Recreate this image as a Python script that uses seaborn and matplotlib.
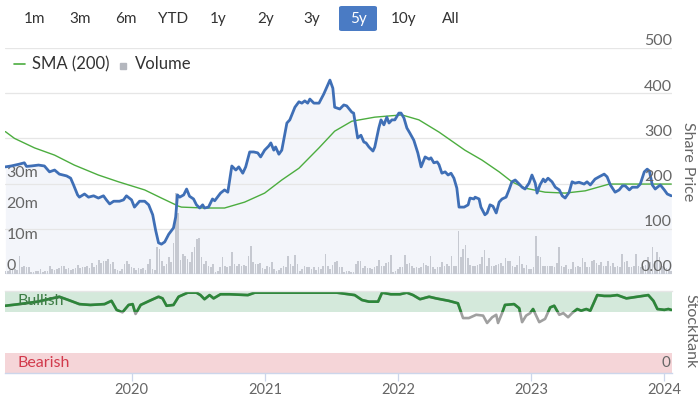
import numpy as np
import pandas as pd
import matplotlib.pyplot as plt
import seaborn as sns
from matplotlib.lines import Line2D
from matplotlib.patches import FancyBboxPatch, Rectangle
import matplotlib.transforms as mtransforms

# ==========================================
# DATA
# ==========================================

range_buttons = ["1m", "3m", "6m", "YTD", "1y", "2y", "3y", "5y", "10y", "All"]
selected_button = "5y"

price_dates = [
    "2019-01-20", "2019-02-05", "2019-02-27", "2019-03-13", "2019-03-19", "2019-04-01", "2019-04-21",
    "2019-05-07", "2019-05-21", "2019-06-04", "2019-06-17", "2019-07-07", "2019-07-18", "2019-07-26",
    "2019-08-06", "2019-08-11", "2019-08-25", "2019-09-05", "2019-09-19", "2019-10-02", "2019-10-16",
    "2019-10-24", "2019-11-02", "2019-11-13", "2019-11-29", "2019-12-10", "2019-12-18", "2020-01-01",
    "2020-01-09", "2020-01-23", "2020-02-06", "2020-02-17", "2020-02-28", "2020-03-07", "2020-03-15",
    "2020-03-23", "2020-04-01", "2020-04-12", "2020-04-25", "2020-05-01", "2020-05-06", "2020-05-12",
    "2020-05-23", "2020-05-31", "2020-06-08", "2020-06-19", "2020-06-27", "2020-07-06", "2020-07-14",
    "2020-07-19", "2020-07-30", "2020-08-10", "2020-08-16", "2020-09-01", "2020-09-12", "2020-09-21",
    "2020-10-02", "2020-10-13", "2020-10-21", "2020-11-01", "2020-11-09", "2020-11-20", "2020-12-01",
    "2020-12-12", "2020-12-20", "2020-12-31", "2021-01-11", "2021-01-17", "2021-01-25", "2021-01-30",
    "2021-02-08", "2021-02-16", "2021-03-02", "2021-03-10", "2021-03-24", "2021-04-04", "2021-04-12",
    "2021-04-20", "2021-04-28", "2021-05-04", "2021-05-15", "2021-05-29", "2021-06-11", "2021-06-28",
    "2021-07-06", "2021-07-11", "2021-07-25", "2021-08-05", "2021-08-13", "2021-08-27", "2021-09-01",
    "2021-09-12", "2021-09-21", "2021-09-29", "2021-10-05", "2021-10-13", "2021-10-24", "2021-10-29",
    "2021-11-09", "2021-11-15", "2021-11-23", "2021-12-01", "2021-12-07", "2021-12-15", "2021-12-23",
    "2022-01-03", "2022-01-09", "2022-01-17", "2022-01-25", "2022-02-02", "2022-02-13", "2022-02-24",
    "2022-03-05", "2022-03-16", "2022-03-27", "2022-04-01", "2022-04-09", "2022-04-18", "2022-04-23",
    "2022-05-01", "2022-05-10", "2022-05-18", "2022-05-26", "2022-06-03", "2022-06-11", "2022-06-17",
    "2022-07-01", "2022-07-12", "2022-07-17", "2022-07-28", "2022-07-31", "2022-08-11", "2022-08-16",
    "2022-08-27", "2022-09-02", "2022-09-10", "2022-09-18", "2022-09-27", "2022-10-05", "2022-10-13",
    "2022-10-24", "2022-11-01", "2022-11-09", "2022-11-18", "2022-11-29", "2022-12-07", "2022-12-15",
    "2022-12-26", "2023-01-03", "2023-01-12", "2023-01-17", "2023-01-25", "2023-02-03", "2023-02-08",
    "2023-02-16", "2023-02-27", "2023-03-08", "2023-03-19", "2023-03-27", "2023-04-04", "2023-04-15",
    "2023-04-23", "2023-05-01", "2023-05-12", "2023-05-26", "2023-06-03", "2023-06-12", "2023-06-25",
    "2023-07-06", "2023-07-20", "2023-07-28", "2023-08-06", "2023-08-19", "2023-08-30", "2023-09-08",
    "2023-09-16", "2023-09-27", "2023-10-05", "2023-10-19", "2023-10-27", "2023-11-07", "2023-11-15",
    "2023-11-21", "2023-11-29", "2023-12-07", "2023-12-13", "2023-12-21", "2024-01-01", "2024-01-09",
    "2024-01-20",
]
price_values = [
    237, 239, 243, 246, 238, 239, 241, 239, 226, 230, 221, 217, 212, 197, 175, 170, 177, 170, 173, 168,
    173, 164, 155, 161, 161, 164, 173, 164, 148, 161, 161, 153, 131, 97, 69, 66, 71, 88, 102, 126,
    175, 170, 175, 188, 172, 166, 153, 146, 153, 146, 148, 166, 162, 179, 186, 181, 239, 230, 237, 223,
    237, 270, 270, 268, 259, 274, 283, 290, 274, 281, 265, 274, 334, 341, 369, 381, 378, 383, 378, 387,
    378, 378, 398, 429, 411, 369, 365, 374, 372, 358, 356, 301, 307, 292, 290, 281, 272, 281, 323, 341,
    330, 347, 334, 341, 341, 356, 356, 345, 323, 312, 296, 268, 237, 259, 254, 257, 246, 248, 242, 223,
    226, 219, 223, 212, 190, 148, 148, 153, 168, 166, 170, 166, 148, 131, 135, 153, 150, 135, 159, 166,
    170, 186, 204, 208, 199, 192, 188, 201, 219, 201, 179, 197, 210, 204, 212, 204, 192, 186, 173, 168,
    181, 204, 201, 203, 199, 204, 197, 210, 215, 221, 215, 197, 181, 186, 195, 195, 186, 192, 192, 199,
    226, 232, 228, 197, 188, 192, 197, 186, 177, 173,
]

sma_dates = [
    "2019-01-20", "2019-02-14", "2019-04-10", "2019-06-04", "2019-07-28", "2019-10-02", "2019-11-26",
    "2020-02-06", "2020-03-23", "2020-05-09", "2020-05-17", "2020-07-19", "2020-09-12", "2020-11-06",
    "2020-12-31", "2021-02-16", "2021-04-04", "2021-05-29", "2021-07-11", "2021-08-27", "2021-10-29",
    "2022-01-11", "2022-02-27", "2022-04-23", "2022-07-03", "2022-08-19", "2022-10-05", "2022-11-09",
    "2022-12-15", "2023-02-08", "2023-04-04", "2023-05-29", "2023-08-03", "2023-09-27", "2023-11-29",
    "2024-01-20",
]
sma_values = [
    315, 300, 279, 263, 241, 219, 204, 186, 168, 150, 148, 146, 146, 159, 179, 208, 234, 279, 316, 338,
    347, 352, 341, 314, 274, 252, 226, 204, 190, 181, 179, 184, 199, 199, 199, 199,
]

# weekly volume in millions
volume_m = [
    1.1, 1.1, 1.2, 1.6, 1.6, 1.3, 5.8, 2.1, 2.6, 2.3, 2.1, 0.7, 0.7, 0.9, 1.1, 1.6, 0.7, 1.1, 0.8, 2.6,
    1.6, 1.2, 1.6, 1.8, 2.4, 2.6, 1.6, 1.8, 1.4, 1.6, 1.8, 2.8, 1.8, 2.3, 2.1, 2.6, 1.9, 3.5, 2.1, 2.8,
    4.5, 3.5, 4.1, 4.1, 4.8, 3.2, 3.9, 1.6, 1.2, 1.1, 1.6, 3.2, 4.2, 3.2, 2.1, 1.8, 1.4, 1.8, 1.6, 2.0,
    1.3, 3.2, 4.8, 1.6, 1.4, 8.5, 8.0, 4.2, 2.6, 3.1, 5.3,
    3.7, 10.0, 26.0, 19.4, 4.6, 6.3, 5.8, 4.8, 3.7, 6.9, 8.5, 11.1, 11.6, 5.3, 3.2, 4.2, 2.6, 2.1, 3.2,
    0.7, 1.1, 2.1, 5.3, 2.6, 2.1, 2.6, 6.9, 3.2, 2.6, 3.2, 2.6, 2.9, 2.6, 5.8, 9.0, 3.7, 3.2, 3.2, 3.5,
    1.8, 1.6, 2.6, 2.1, 3.9, 1.6, 1.1, 1.4, 1.8, 2.6, 2.1, 5.8, 3.2, 2.6, 6.0, 3.2, 1.1, 1.6, 2.6, 2.1,
    2.1, 1.6, 2.1, 1.4, 2.3, 1.6, 2.6, 6.3, 2.6, 1.6, 2.9, 3.7, 4.2, 2.1,
    2.1, 0.7, 1.1, 1.1, 0.7, 0.7, 3.2, 4.2, 4.2, 1.8, 2.6, 1.8, 2.0, 1.6, 2.1, 2.6, 4.6, 2.6, 2.6, 3.5,
    3.9, 6.1, 0.7, 1.1, 1.6, 2.3, 2.1, 6.1, 3.2, 3.5, 2.6, 1.8, 2.1, 1.8, 2.1, 3.5, 2.9, 2.6, 5.6, 2.1,
    1.6, 2.1, 2.1, 3.7, 2.6, 3.2, 2.6, 5.8, 2.4, 2.4, 13.8, 5.3, 7.9, 9.2, 5.0, 2.9, 2.6, 2.6, 2.9, 3.2,
    5.3, 7.7, 2.6, 5.0, 2.6, 2.6, 2.9, 3.2, 3.5, 2.6, 5.0, 4.2,
    4.2, 2.6, 2.1, 2.9, 5.6, 3.2, 1.8, 2.9, 1.6, 1.6, 2.1, 12.0, 5.8, 5.3, 2.6, 2.6, 2.4, 2.4, 2.6, 2.3,
    3.5, 8.7, 2.6, 2.1, 2.9, 1.6, 1.6, 3.7, 2.1, 2.4, 2.1, 5.0, 3.9, 2.1, 2.1, 4.2, 4.6, 3.5, 2.9, 3.7,
    2.4, 2.6, 4.2, 2.6, 3.5, 2.1, 2.6, 2.1, 6.3, 3.7, 4.2, 2.1, 2.1, 2.4, 6.3, 2.6, 2.1, 2.6, 2.9, 5.3,
    3.9, 8.7, 4.2, 6.9, 5.3, 2.6, 2.1, 1.8, 1.6, 1.1,
]
volume_start = "2019-01-20"
volume_end = "2024-01-20"

rank_dates = [
    "2019-01-20", "2019-02-27", "2019-04-18", "2019-06-17", "2019-07-12", "2019-08-11", "2019-09-10",
    "2019-10-19", "2019-11-07", "2019-11-21", "2019-12-07", "2019-12-24", "2020-01-04", "2020-01-12",
    "2020-01-26", "2020-02-19", "2020-03-15", "2020-03-26", "2020-04-06", "2020-04-25", "2020-05-09",
    "2020-06-03", "2020-06-27", "2020-07-08", "2020-07-19", "2020-08-02", "2020-08-13", "2020-09-01",
    "2020-09-26", "2020-11-15", "2020-12-04", "2021-03-18", "2021-07-17", "2021-09-04", "2021-09-24",
    "2021-10-13", "2021-11-07", "2021-11-18", "2021-12-12", "2022-01-06", "2022-01-25", "2022-02-11",
    "2022-03-02", "2022-03-27", "2022-04-15", "2022-05-20", "2022-06-14", "2022-06-28", "2022-07-14",
    "2022-08-03", "2022-08-22", "2022-09-02", "2022-09-16", "2022-09-27", "2022-10-02", "2022-10-13",
    "2022-10-21", "2022-11-15", "2022-11-29", "2022-12-07", "2022-12-18", "2022-12-29", "2023-01-06",
    "2023-01-23", "2023-02-08", "2023-02-22", "2023-03-05", "2023-03-19", "2023-03-30", "2023-04-12",
    "2023-04-23", "2023-05-07", "2023-05-18", "2023-06-01", "2023-06-12", "2023-07-01", "2023-07-20",
    "2023-08-06", "2023-08-25", "2023-09-19", "2023-10-19", "2023-11-18", "2023-12-02", "2023-12-13",
    "2024-01-01", "2024-01-12", "2024-01-20",
]
rank_values = [
    82, 84, 87, 93, 89, 84, 83, 84, 88, 77, 74, 83, 84, 72, 83, 88, 93, 91, 82, 83, 93, 98, 98, 95, 90,
    95, 91, 96, 96, 95, 98, 98, 98, 95, 89, 87, 87, 98, 96, 96, 98, 95, 90, 93, 91, 88, 85, 67, 67, 71,
    70, 61, 68, 71, 61, 73, 83, 84, 79, 62, 70, 73, 78, 62, 66, 80, 82, 71, 73, 68, 73, 78, 76, 78, 76,
    95, 94, 94, 95, 91, 93, 95, 88, 78, 77, 78, 77,
]

price_ticks = [100, 200, 300, 400, 500]
volume_ticks = [0, 10, 20, 30]
years = [2020, 2021, 2022, 2023, 2024]
bullish_min = 75
bearish_max = 25

# ==========================================
# FRAMES
# ==========================================

price_df = pd.DataFrame({"date": pd.to_datetime(price_dates), "price": price_values})
sma_df = pd.DataFrame({"date": pd.to_datetime(sma_dates), "sma": sma_values})
vol_df = pd.DataFrame({
    "date": pd.date_range(volume_start, volume_end, periods=len(volume_m)),
    "volume": volume_m,
})
rank_df = pd.DataFrame({"date": pd.to_datetime(rank_dates), "rank": rank_values})

x_min = pd.Timestamp("2019-01-19")
x_max = pd.Timestamp("2024-01-22")

# ==========================================
# STYLE
# ==========================================

sns.set_theme(style="white")
plt.rcParams['font.family'] = ['Lato', 'DejaVu Sans']

BLUE = "#3f6fb6"
SMA_GREEN = "#4cad3f"
RANK_GREEN = "#2c8639"
GREY_TXT = "#666666"
GRID = "#e6e6e6"

W, H = 698, 397
fig = plt.figure(figsize=(W / 100, H / 100), dpi=100)


def px_rect(left, top, right, bottom):
    return [left / W, 1 - bottom / H, (right - left) / W, (bottom - top) / H]


def clean(ax):
    ax.set_xlim(x_min, x_max)
    ax.set_xticks([])
    ax.set_yticks([])
    ax.set_xlabel("")
    ax.set_ylabel("")
    for s in ax.spines.values():
        s.set_visible(False)


main_rect = px_rect(5, 48, 672, 274)
rank_rect = px_rect(5, 291, 672, 373)

# ==========================================
# PRICE PANEL (background, volume, lines)
# ==========================================

ax_bg = fig.add_axes(main_rect)
ax_bg.set_ylim(0, 500)
ax_bg.fill_between(price_df["date"], price_df["price"], 0, color="#f3f5fa", lw=0)
for t in price_ticks:
    ax_bg.axhline(t, color=GRID, lw=0.9)
ax_bg.axhline(0, color="#dde3ee", lw=1.2)
clean(ax_bg)

ax_vol = fig.add_axes(main_rect)
ax_vol.patch.set_visible(False)
ax_vol.bar(vol_df["date"], vol_df["volume"], width=4.6, color="#c6c9d1", lw=0)
ax_vol.set_ylim(0, 72.2)
clean(ax_vol)

ax = fig.add_axes(main_rect)
ax.patch.set_visible(False)
sns.lineplot(data=sma_df, x="date", y="sma", ax=ax, color=SMA_GREEN, lw=1.0)
sns.lineplot(data=price_df, x="date", y="price", ax=ax, color=BLUE, lw=2.0)
ax.set_ylim(0, 500)
clean(ax)

# price labels (right, inside)
price_tr = mtransforms.blended_transform_factory(ax.transAxes, ax.transData)
for t in price_ticks + [0]:
    label = "0.00" if t == 0 else str(t)
    ax.annotate(label, xy=(1, t), xycoords=price_tr, xytext=(0, 4.8),
                textcoords="offset points", ha="right", va="center",
                fontsize=11.5, color=GREY_TXT)

# volume labels (left, inside)
vol_tr = mtransforms.blended_transform_factory(ax_vol.transAxes, ax_vol.transData)
for v in volume_ticks:
    label = "0" if v == 0 else f"{v}m"
    ax_vol.annotate(label, xy=(0, v), xycoords=vol_tr, xytext=(1, 5.4),
                    textcoords="offset points", ha="left", va="center",
                    fontsize=11.5, color=GREY_TXT)

fig.text(688 / W, 1 - 162 / H, "Share Price", rotation=270, ha="center", va="center",
         fontsize=11.5, color=GREY_TXT)

# legend
leg_y = 1 - 64 / H
fig.add_artist(Line2D([14 / W, 25 / W], [leg_y, leg_y], color=SMA_GREEN, lw=1.2,
                      transform=fig.transFigure))
fig.text(32 / W, leg_y, "SMA (200)", ha="left", va="center", fontsize=12, color="#333333")
fig.add_artist(Line2D([123 / W], [leg_y - 2 / H], marker="s", ms=5, color="#b4b7be", ls="",
                      transform=fig.transFigure))
fig.text(135 / W, leg_y, "Volume", ha="left", va="center", fontsize=12, color="#333333")

# ==========================================
# RANGE BUTTONS
# ==========================================

button_x = [35, 80, 126, 173, 218, 266, 312, 358, 404, 451]
for name, bx in zip(range_buttons, button_x):
    if name == selected_button:
        box = FancyBboxPatch(((bx - 19) / W, 1 - 31 / H), 38 / W, 25 / H,
                             boxstyle="round,pad=0,rounding_size=0.004",
                             transform=fig.transFigure, color="#4a7bc4", lw=0)
        fig.add_artist(box)
        color = "white"
    else:
        color = "#333333"
    fig.text(bx / W, 1 - 19 / H, name, ha="center", va="center", fontsize=11, color=color)

# ==========================================
# STOCKRANK PANEL
# ==========================================

ax_r = fig.add_axes(rank_rect)
ax_r.set_ylim(0, 100)
ax_r.axhspan(bullish_min, 100, color="#d4e9db", lw=0)
ax_r.axhspan(0, bearish_max, color="#f5d5d8", lw=0)
sns.lineplot(data=rank_df, x="date", y="rank", ax=ax_r, color="#a0a0a0", lw=1.9)
sns.lineplot(data=rank_df, x="date", y="rank", ax=ax_r, color=RANK_GREEN, lw=1.9)
ax_r.set_xlim(x_min, x_max)
rank_tr = mtransforms.blended_transform_factory(ax_r.transAxes, ax_r.transData)
clip = Rectangle((0, bullish_min), 1, 100 - bullish_min, transform=rank_tr)
ax_r.lines[-1].set_clip_path(clip)

ax_r.set_xlabel("")
ax_r.set_ylabel("")
ax_r.set_yticks([])
ax_r.set_xticks([pd.Timestamp(f"{y}-01-01") for y in years])
ax_r.set_xticklabels([str(y) for y in years])
ax_r.tick_params(axis="x", length=6, width=0.9, color="#ccd6eb", labelcolor=GREY_TXT,
                 labelsize=10.5, pad=1.5, direction="out", bottom=True)
for side in ["left", "right"]:
    ax_r.spines[side].set_visible(False)
ax_r.spines["top"].set_color(GRID)
ax_r.spines["top"].set_linewidth(1.0)
ax_r.spines["bottom"].set_color("#ccd6eb")
ax_r.spines["bottom"].set_linewidth(1.0)

ax_r.text(0.018, 87.5, "Bullish", transform=rank_tr,
          ha="left", va="center", fontsize=11.5, color="#3d7d45")
ax_r.text(0.018, 12.5, "Bearish", transform=rank_tr,
          ha="left", va="center", fontsize=11.5, color="#d23a4c")
ax_r.text(0.998, 12, "0", transform=rank_tr,
          ha="right", va="center", fontsize=11, color=GREY_TXT)

fig.text(690 / W, 1 - 331 / H, "StockRank", rotation=270, ha="center", va="center",
         fontsize=11.5, color=GREY_TXT)

fig.savefig("out.png", dpi=100, facecolor="white")
